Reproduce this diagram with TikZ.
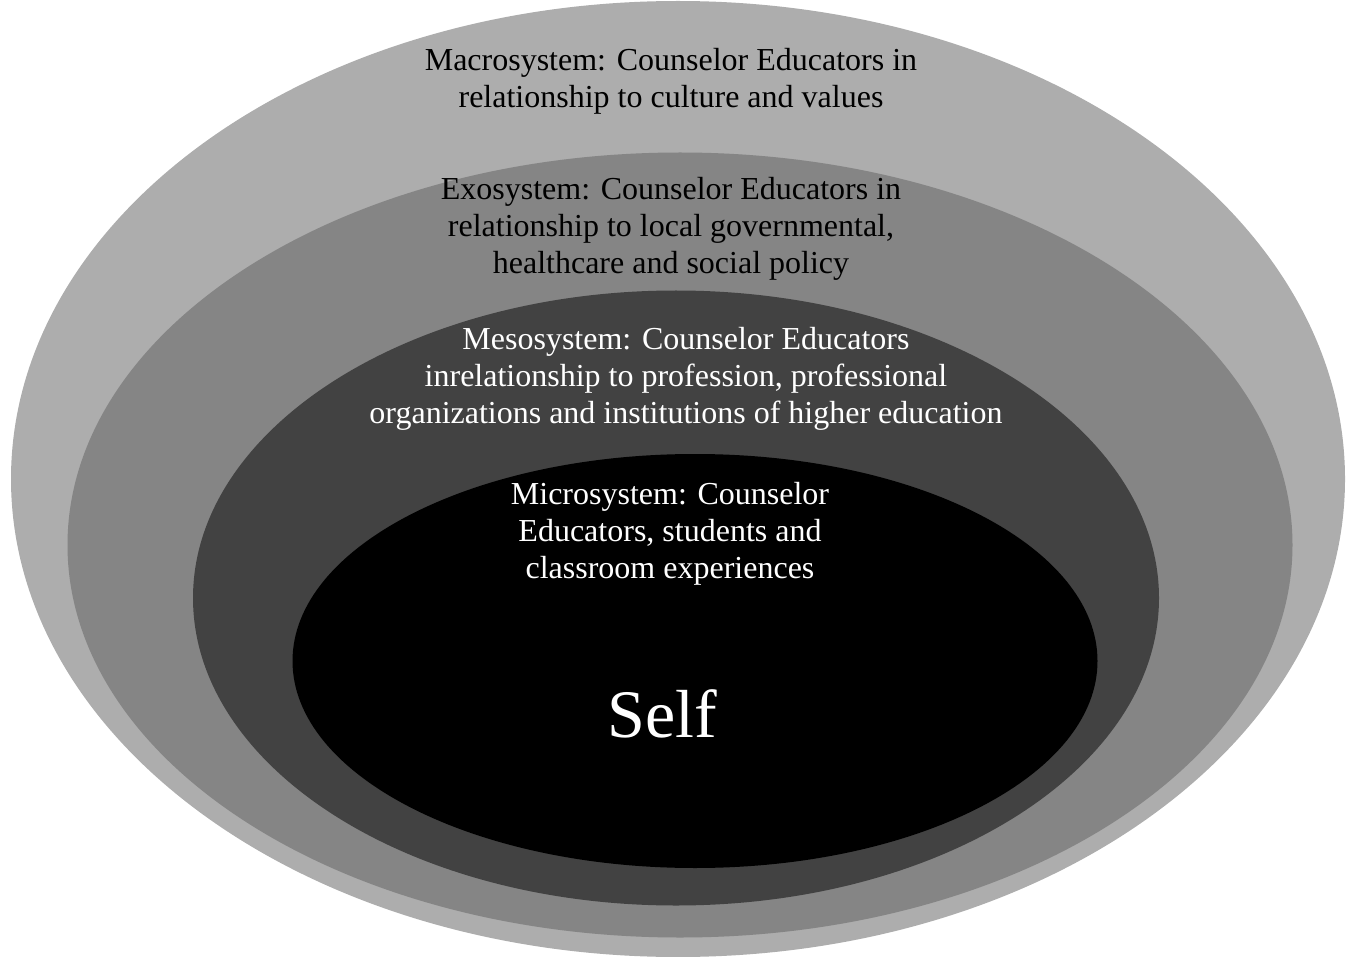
\documentclass[tikz,border=0pt]{standalone}
\usepackage{fontspec}
\setmainfont{Liberation Serif}
\usetikzlibrary{shapes.geometric}
\definecolor{macrogray}{gray}{0.68}
\definecolor{exogray}{gray}{0.52}
\definecolor{mesogray}{gray}{0.26}
\definecolor{microgray}{gray}{0.0}
\tikzset{
  ring/.style={ellipse, draw=none, inner sep=0pt},
  label/.style={align=center, inner sep=0pt, font=\fontsize{32}{37}\selectfont},
}
\begin{document}
\begin{tikzpicture}[x=1pt,y=-1pt]
\useasboundingbox (0,0) rectangle (1349,957);
\node[ring, fill=macrogray, minimum width=1334pt, minimum height=956pt] (macro) at (678,479) {};
\node[ring, fill=exogray, minimum width=1225pt, minimum height=785pt] (exo) at (680,545) {};
\node[ring, fill=mesogray, minimum width=966pt, minimum height=615pt] (meso) at (676,598) {};
\node[ring, fill=microgray, minimum width=805pt, minimum height=414pt] (micro) at (695,661) {};
\node[label, text=black] (macrotext) at (671,81) {Macrosystem: Counselor Educators in\\relationship to culture and values};
\node[label, text=black] (exotext) at (671,229) {Exosystem: Counselor Educators in\\relationship to local governmental,\\healthcare and social policy};
\node[label, text=white] (mesotext) at (686,379) {Mesosystem: Counselor Educators\\inrelationship to profession, professional\\organizations and institutions of higher education};
\node[label, text=white] (microtext) at (670,534) {Microsystem: Counselor\\Educators, students and\\classroom experiences};
\node[inner sep=0pt, text=white, font=\fontsize{68}{80}\selectfont] (self) at (662,714) {Self};
\end{tikzpicture}
\end{document}
